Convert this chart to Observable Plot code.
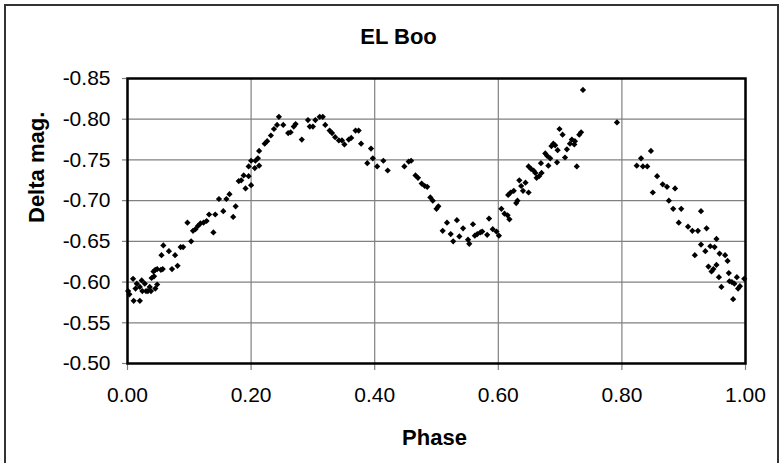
<!DOCTYPE html>
<html>
<head>
<meta charset="utf-8">
<script src="https://cdn.jsdelivr.net/npm/d3@7"></script>
<script src="https://cdn.jsdelivr.net/npm/@observablehq/plot@0.6"></script>
<style>
  html, body { margin: 0; padding: 0; background: #fff; }
  #wrap { position: relative; width: 781px; height: 463px; overflow: hidden; background: #fff; }
  #border { position: absolute; left: 4px; top: 4px; width: 771px; height: 500px;
            border-left: 2px solid #333; border-top: 2px solid #333; border-right: 2px solid #333;
            pointer-events: none; }
</style>
</head>
<body>
<div id="wrap"><div id="border"></div></div>
<script>
const title = "EL Boo";
const xLabel = "Phase";
const yLabel = "Delta mag.";
const xTicks = [0, 0.2, 0.4, 0.6, 0.8, 1.0];
const yTicks = [-0.85, -0.80, -0.75, -0.70, -0.65, -0.60, -0.55, -0.50];

const phase = [
  0.001, 0.003, 0.009, 0.010, 0.020, 0.013, 0.015, 0.020, 0.023, 0.024,
  0.028, 0.030, 0.033, 0.036, 0.038, 0.039, 0.043, 0.045, 0.048, 0.042,
  0.045, 0.048, 0.054, 0.057, 0.055, 0.058, 0.067, 0.072, 0.077, 0.081,
  0.086, 0.090, 0.097, 0.103, 0.106, 0.110, 0.114, 0.118, 0.123, 0.128,
  0.132, 0.139, 0.142, 0.148, 0.155, 0.160, 0.165, 0.171, 0.175, 0.180,
  0.184, 0.188, 0.191, 0.196, 0.196, 0.200, 0.200, 0.206, 0.207, 0.211,
  0.213, 0.213, 0.222, 0.226, 0.232, 0.237, 0.242, 0.245,
  0.252, 0.260, 0.264, 0.269, 0.272, 0.282, 0.292, 0.295, 0.300, 0.304,
  0.311, 0.316, 0.320, 0.327, 0.331, 0.336, 0.342, 0.347, 0.351, 0.358,
  0.362, 0.369, 0.374, 0.378, 0.388, 0.394, 0.397, 0.404, 0.414, 0.421,
  0.448, 0.455, 0.459, 0.466, 0.470, 0.476, 0.481, 0.485,
  0.490, 0.494, 0.500, 0.503, 0.510, 0.517, 0.523, 0.527, 0.533, 0.537,
  0.543, 0.551, 0.553, 0.559, 0.562, 0.566, 0.571, 0.574, 0.582, 0.585,
  0.591, 0.597, 0.601, 0.605, 0.610, 0.615, 0.618, 0.616, 0.620, 0.625,
  0.629, 0.631, 0.634, 0.637, 0.640, 0.644, 0.649, 0.649, 0.653, 0.657,
  0.660, 0.662, 0.666, 0.669, 0.670, 0.676, 0.679, 0.681, 0.684, 0.686,
  0.689, 0.692, 0.695, 0.696, 0.699, 0.704, 0.708, 0.711, 0.716, 0.719,
  0.723, 0.724, 0.727, 0.731,
  0.734, 0.737, 0.792, 0.824, 0.831, 0.834, 0.841, 0.847, 0.850, 0.857,
  0.866, 0.873, 0.876, 0.883, 0.886, 0.896, 0.892, 0.907, 0.914, 0.918,
  0.923, 0.928, 0.928, 0.935, 0.937, 0.940, 0.943, 0.945, 0.948, 0.950,
  0.953, 0.953, 0.958, 0.957, 0.961, 0.967, 0.971, 0.973, 0.974, 0.978,
  0.980, 0.982, 0.986, 0.988, 0.991, 0.998
];
const deltaMag = [
  -0.589, -0.585, -0.604, -0.577, -0.577, -0.592, -0.598, -0.594, -0.602, -0.589,
  -0.598, -0.589, -0.589, -0.594, -0.589, -0.605, -0.607, -0.592, -0.597, -0.613,
  -0.615, -0.616, -0.615, -0.616, -0.633, -0.645, -0.638, -0.616, -0.633, -0.620,
  -0.643, -0.643, -0.673, -0.650, -0.663, -0.665, -0.669, -0.672, -0.673, -0.675,
  -0.683, -0.661, -0.683, -0.702, -0.687, -0.702, -0.708, -0.680, -0.693, -0.724,
  -0.725, -0.731, -0.715, -0.730, -0.742, -0.719, -0.749, -0.740, -0.749, -0.752,
  -0.743, -0.761, -0.770, -0.773, -0.780, -0.788, -0.793, -0.803,
  -0.793, -0.783, -0.784, -0.791, -0.794, -0.775, -0.799, -0.791, -0.791, -0.799,
  -0.803, -0.803, -0.793, -0.786, -0.783, -0.778, -0.774, -0.774, -0.769, -0.775,
  -0.777, -0.786, -0.786, -0.770, -0.746, -0.764, -0.752, -0.742, -0.749, -0.737,
  -0.742, -0.748, -0.749, -0.731, -0.728, -0.721, -0.718, -0.717,
  -0.704, -0.700, -0.690, -0.693, -0.663, -0.673, -0.659, -0.650, -0.676, -0.656,
  -0.666, -0.652, -0.647, -0.671, -0.657, -0.659, -0.661, -0.662, -0.658, -0.678,
  -0.665, -0.662, -0.657, -0.690, -0.684, -0.682, -0.677, -0.707, -0.710, -0.712,
  -0.697, -0.700, -0.725, -0.718, -0.712, -0.722, -0.710, -0.742, -0.739, -0.737,
  -0.734, -0.728, -0.730, -0.746, -0.734, -0.758, -0.755, -0.743, -0.752, -0.767,
  -0.770, -0.768, -0.747, -0.762, -0.788, -0.781, -0.753, -0.763, -0.770, -0.775,
  -0.769, -0.773, -0.742, -0.781,
  -0.784, -0.836, -0.796, -0.743, -0.752, -0.742, -0.742, -0.761, -0.710, -0.730,
  -0.720, -0.717, -0.700, -0.690, -0.715, -0.690, -0.673, -0.668, -0.663, -0.633,
  -0.663, -0.646, -0.687, -0.638, -0.666, -0.619, -0.644, -0.613, -0.616, -0.643,
  -0.653, -0.621, -0.635, -0.606, -0.594, -0.633, -0.626, -0.611, -0.601, -0.600,
  -0.579, -0.598, -0.606, -0.592, -0.595, -0.604
];

const data = phase.map((p, i) => ({phase: p, mag: deltaMag[i]}));

const chart = Plot.plot({
  width: 781,
  height: 463,
  marginLeft: 127,
  marginRight: 36,
  marginTop: 78,
  marginBottom: 100,
  style: {fontFamily: "'Liberation Sans', Arial, sans-serif", fontSize: "21px", background: "transparent", overflow: "visible"},
  x: {domain: [0, 1]},
  y: {domain: [-0.50, -0.85]},
  marks: [
    Plot.gridX(xTicks, {stroke: "#808080", strokeOpacity: 1, strokeWidth: 1.2}),
    Plot.gridY(yTicks, {stroke: "#808080", strokeOpacity: 1, strokeWidth: 1.2}),
    Plot.axisX({ticks: xTicks, tickFormat: d => d.toFixed(2), tickSize: 7, tickPadding: 17,
                stroke: "#808080", strokeWidth: 1.2, fill: "black", fontSize: 21, label: null}),
    Plot.axisY({ticks: yTicks, tickFormat: d => d.toFixed(2), tickSize: 5, tickPadding: 12,
                stroke: "#808080", strokeWidth: 1.2, fill: "black", fontSize: 21, label: null}),
    Plot.frame({stroke: "black", strokeWidth: 2.5}),
    Plot.dot(data, {x: "phase", y: "mag", symbol: "diamond2", r: 2.8, fill: "black", stroke: "none"}),
    Plot.text([title], {frameAnchor: "top", dx: -38, dy: -42, lineAnchor: "middle",
                        fontWeight: "bold", fontSize: 22, fill: "black"}),
    Plot.text([xLabel], {frameAnchor: "bottom", dx: -2, dy: 74, lineAnchor: "middle",
                         fontWeight: "bold", fontSize: 22, fill: "black"}),
    Plot.text([yLabel], {frameAnchor: "left", dx: -91, dy: 2, rotate: -90, lineAnchor: "middle",
                         fontWeight: "bold", fontSize: 22, fill: "black"})
  ]
});
document.getElementById("wrap").appendChild(chart);
</script>
</body>
</html>
